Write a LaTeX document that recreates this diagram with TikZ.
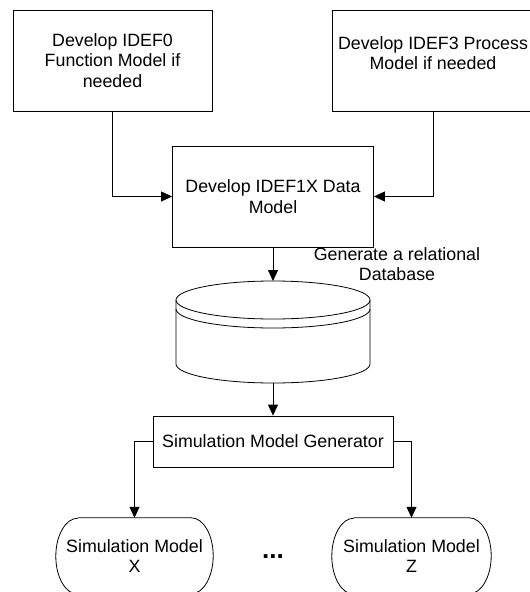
\documentclass[tikz,border=0pt]{standalone}
\usepackage{fontspec}
\setmainfont{Liberation Sans}
\usetikzlibrary{arrows.meta}

\begin{document}
\begin{tikzpicture}[x=1pt,y=-1pt,
    every node/.style={font=\fontsize{17.8}{20.5}\selectfont},
    box/.style={draw,line width=0.8pt,inner sep=0pt,align=center},
    model/.style={inner sep=0pt,align=center,minimum height=76pt},
    flow/.style={-{Triangle[length=11pt,width=10pt]},line width=0.8pt}]
    \useasboundingbox (0,0) rectangle (530,592);
    \node[box,minimum width=199pt,minimum height=101pt] (idefzero) at (112.5,60.5) {Develop IDEF0\\Function Model if\\needed};
    \node[box,minimum width=202pt,minimum height=101pt] (idefthree) at (433,60.5) {};
    \node[align=center] (idefthreetxt) at (433,53) {Develop IDEF3 Process\\Model if needed};
    \node[box,minimum width=201pt,minimum height=101pt] (idefonex) at (273,196.5) {Develop IDEF1X Data\\Model};
    \draw[flow] (idefzero.south) |- (idefonex.west);
    \draw[flow] (idefthree.south) |- (idefonex.east);
    % database
    \coordinate (dbtop) at (273,281);
    \coordinate (dbbottom) at (273,383);
    \draw[line width=0.8pt] (273,300) ellipse [x radius=97pt,y radius=19pt];
    \draw[line width=0.8pt] (176,309) arc [start angle=180,end angle=360,x radius=97pt,y radius=19pt];
    \draw[line width=0.8pt] (176,300) -- (176,364) arc [start angle=180,end angle=360,x radius=97pt,y radius=19pt] -- (370,300);
    \draw[flow] (idefonex.south) -- (dbtop);
    \node[align=center] (dblabel) at (397,264) {Generate a relational\\Database};
    \node[box,minimum width=240pt,minimum height=51pt] (gen) at (273,441.5) {Simulation Model Generator};
    \draw[flow] (dbbottom) -- (gen.north);
    % simulation models, rounded ends
    \node[model,minimum width=157pt] (simx) at (134.5,556) {Simulation Model\\X};
    \node[model,minimum width=159pt] (simz) at (411.5,556) {Simulation Model\\Z};
    \foreach \m in {simx,simz}
        \draw[line width=0.8pt] ([xshift=22pt]\m.north west) -- ([xshift=-22pt]\m.north east)
            arc [start angle=90,end angle=-90,x radius=22pt,y radius=38pt]
            -- ([xshift=22pt]\m.south west)
            arc [start angle=270,end angle=90,x radius=22pt,y radius=38pt];
    \node[font=\bfseries\fontsize{26}{26}\selectfont] (dots) at (273,557) {...};
    \draw[flow] (gen.west) -| (simx.north);
    \draw[flow] (gen.east) -| (simz.north);
\end{tikzpicture}
\end{document}
